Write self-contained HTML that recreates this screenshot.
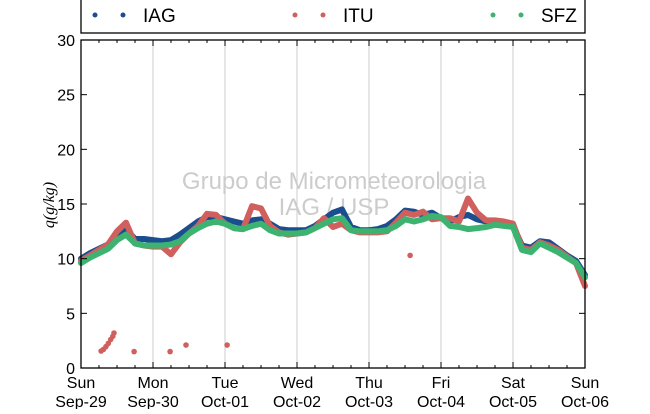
<!DOCTYPE html>
<html><head><meta charset="utf-8"><style>
body{margin:0;background:#fff}
svg{font-family:"Liberation Sans","DejaVu Sans",sans-serif}
</style></head><body>
<svg id="c" width="650" height="409"></svg>
<script>
const iag=[10.0,10.5,10.9,11.3,12.2,12.7,11.8,11.8,11.7,11.6,11.7,12.2,12.8,13.4,13.8,13.8,13.6,13.4,13.2,13.5,13.6,13.2,12.7,12.6,12.6,12.6,13.0,13.6,14.2,14.5,12.9,12.6,12.6,12.7,13.0,13.6,14.4,14.3,14.0,14.2,13.7,13.4,13.8,14.0,13.6,13.4,13.4,13.2,13.0,11.2,11.0,11.6,11.5,10.9,10.3,9.8,8.5];
const itu=[9.8,10.3,10.8,11.3,12.5,13.3,11.4,11.2,11.1,11.1,10.4,11.5,12.3,13.0,14.1,14.0,13.2,12.8,12.7,14.8,14.6,13.0,12.4,12.2,12.3,12.4,12.8,13.7,12.9,13.2,12.6,12.4,12.4,12.4,12.5,13.3,14.2,14.0,14.3,13.6,13.7,13.7,13.4,15.5,14.2,13.5,13.5,13.4,13.2,11.0,10.8,11.5,11.2,10.8,10.2,9.6,7.5];
const sfz=[9.6,10.1,10.5,10.9,11.7,12.2,11.4,11.2,11.2,11.2,11.3,11.6,12.3,12.8,13.2,13.4,13.2,12.8,12.7,13.0,13.2,12.6,12.3,12.3,12.3,12.4,12.8,13.2,13.6,13.7,12.6,12.5,12.5,12.5,12.6,13.0,13.6,13.4,13.6,13.9,13.8,13.0,12.9,12.7,12.8,12.9,13.1,13.0,12.9,10.8,10.6,11.4,11.0,10.6,10.1,9.6,8.3];
const ituOutHours=[6.7,7.5,8.3,9.1,9.9,10.6,11.0,17.7,29.7,35.0,48.7,109.7];
const ituOutVals=[1.55,1.7,1.95,2.25,2.6,2.9,3.2,1.5,1.5,2.1,2.1,10.3];
const stepHours=3;
const yTicks=[0,5,10,15,20,25,30];
const days=["Sun","Mon","Tue","Wed","Thu","Fri","Sat","Sun"];
const dates=["Sep-29","Sep-30","Oct-01","Oct-02","Oct-03","Oct-04","Oct-05","Oct-06"];

const L=81,R=585,T=40,B=368,NS="http://www.w3.org/2000/svg";
const X=h=>L+(R-L)*h/168, Y=v=>B-(B-T)*v/30;
const svg=document.getElementById('c');
function mk(t,a,p){const e=document.createElementNS(NS,t);for(const k in a)e.setAttribute(k,a[k]);(p||svg).appendChild(e);return e;}

// gridlines
days.forEach((d,i)=>{if(i>0&&i<7){const g=mk('line',{x1:X(i*24),x2:X(i*24),y1:T,y2:B,stroke:'#cccccc','stroke-width':1});}});

// watermark
const w1=mk('text',{x:334,y:189,'text-anchor':'middle','font-size':24,fill:'#cccccc'});w1.textContent='Grupo de Micrometeorologia';

const w2=mk('text',{x:334,y:215,'text-anchor':'middle','font-size':24,fill:'#cccccc'});w2.textContent='IAG / USP';


function series(arr,col,name){
  const g=mk('g',{});
  const pts=arr.map((v,i)=>X(i*stepHours).toFixed(1)+','+Y(v).toFixed(1)).join(' ');
  mk('polyline',{points:pts,fill:'none',stroke:col,'stroke-width':6,'stroke-linejoin':'round','stroke-linecap':'round'},g);
  return g;
}
series(iag,'#1a4e8e','series-iag');
const gi=series(itu,'#d0605e','series-itu');
ituOutHours.forEach((h,i)=>{const c=mk('circle',{cx:X(h),cy:Y(ituOutVals[i]),r:2.8,fill:'#d0605e'},gi);});
series(sfz,'#3cb371','series-sfz');

// axes frame
const fr=mk('rect',{x:L,y:T,width:R-L,height:B-T,fill:'none',stroke:'#000','stroke-width':1.3});

// x ticks
for(let h=0;h<=168;h+=6){const len=h%24==0?6:3;mk('line',{x1:X(h),x2:X(h),y1:B,y2:B-len,stroke:'#000'});mk('line',{x1:X(h),x2:X(h),y1:T,y2:T+len,stroke:'#000'});}
days.forEach((d,i)=>{
  const t=mk('text',{x:X(i*24),y:388,'text-anchor':'middle','font-size':16});t.textContent=d;
  
  const t2=mk('text',{x:X(i*24),y:407,'text-anchor':'middle','font-size':16});t2.textContent=dates[i];
  
});
yTicks.forEach(v=>{
  mk('line',{x1:L,x2:L+6,y1:Y(v),y2:Y(v),stroke:'#000'});mk('line',{x1:R,x2:R-6,y1:Y(v),y2:Y(v),stroke:'#000'});
  const t=mk('text',{x:75,y:Y(v)+6,'text-anchor':'end','font-size':16});t.textContent=v;
  
});
const yl=mk('text',{x:0,y:0,transform:'translate(54,205) rotate(-90)','text-anchor':'middle','font-size':16,'font-style':'italic','font-family':'"Liberation Serif",serif'});yl.textContent='q(g/kg)';


// legend
const lg=mk('g',{});
mk('rect',{x:L,y:-5,width:R-L,height:38,fill:'#fff',stroke:'#000','stroke-width':1.3},lg);
[['IAG','#1a4e8e',95],['ITU','#d0605e',295],['SFZ','#3cb371',493]].forEach(([n,c,x])=>{
  const e=mk('g',{},lg);
  mk('circle',{cx:x,cy:15,r:2.5,fill:c},e);mk('circle',{cx:x+28,cy:15,r:2.5,fill:c},e);
  const t=mk('text',{x:x+48,y:22,'font-size':19},e);t.textContent=n;
});
</script>
</body></html>
